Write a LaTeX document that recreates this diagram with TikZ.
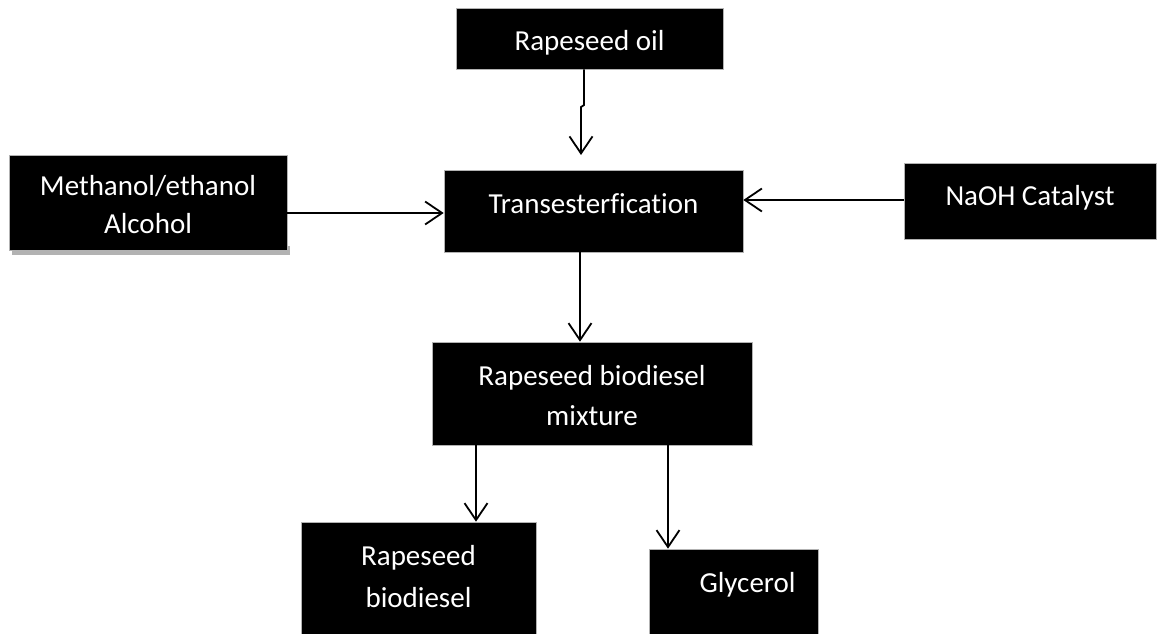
\documentclass[tikz,border=0pt]{standalone}
\usepackage{fontspec}
\setmainfont[Ligatures=NoCommon]{Carlito}
\usetikzlibrary{arrows.meta}
\begin{document}
\begin{tikzpicture}[x=1pt,y=-1pt,
  box/.style={fill=black,draw=gray!60,line width=0.6pt,text=white,align=center,inner sep=0pt,
    font=\fontsize{29}{40}\selectfont},
  arr/.style={line width=1.8pt,-{Straight Barb[length=17pt,width=23pt,line width=1.8pt]}}]
\useasboundingbox (0,0) rectangle (1157,634);
% shadow of the Methanol box
\fill[gray!60] (12,246) rectangle (290,255);
\node[box,minimum width=267pt,minimum height=61pt,text height=24pt,text depth=0pt] (oil) at (589.5,38.5) {Rapeseed oil};
\node[box,minimum width=299pt,minimum height=82pt,text height=12pt,text depth=8pt] (trans) at (593.5,211) {Transesterfication};
\node[box,minimum width=278pt,minimum height=95pt,text height=61pt,text depth=0pt] (meth) at (148,202.5) {Methanol/ethanol\\[-2pt]Alcohol};
\node[box,minimum width=252pt,minimum height=76pt,text height=12pt,text depth=4pt] (naoh) at (1030,201) {NaOH Catalyst};
\node[box,minimum width=320pt,minimum height=103pt,text height=63pt,text depth=0pt] (mix) at (592,393.5) {Rapeseed biodiesel\\mixture};
\node[box,minimum width=235pt,minimum height=112pt,text height=58pt,text depth=0pt] (bio) at (418.5,578) {Rapeseed\\[2pt]biodiesel};
\node[box,minimum width=169pt,minimum height=85pt,text height=12pt,text depth=11pt] (gly) at (733.5,591.5) {\hspace*{28pt}Glycerol};
\coordinate (oilend) at (581,155);
\draw[arr] (oil.south -| 584,0) -- (584,105) -- (581,107) -- (oilend);
\draw[arr] (meth.east |- 0,213) -- (trans.west |- 0,213);
\draw[arr] (naoh.west |- 0,200) -- (trans.east |- 0,200);
\draw[arr] (trans.south -| 580,0) -- (mix.north -| 580,0);
\draw[arr] (mix.south -| 476,0) -- (bio.north -| 476,0);
\draw[arr] (mix.south -| 668,0) -- (gly.north -| 668,0);
\end{tikzpicture}
\end{document}
